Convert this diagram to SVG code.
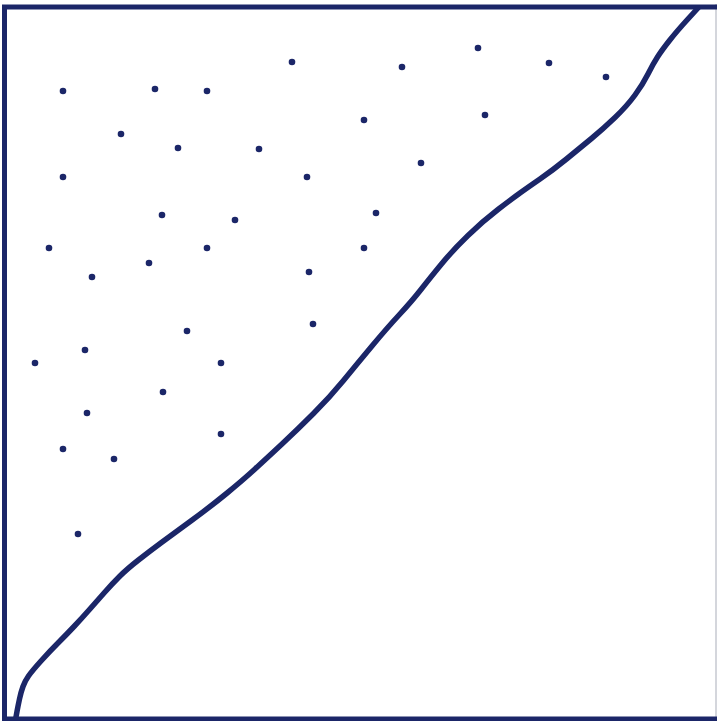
<svg xmlns="http://www.w3.org/2000/svg" width="717" height="721" viewBox="0 0 717 721">
<style>
.frame{fill:none;stroke:#1b2668;stroke-width:5;stroke-linecap:square}
.edge{fill:none;stroke:#d4d6dc;stroke-width:2}
.curve{fill:none;stroke:#1b2668;stroke-width:5.5;stroke-linejoin:round;stroke-linecap:round}
.dot{fill:#1b2668}
</style>
<rect width="717" height="721" fill="#ffffff"/>
<g id="frame">
<line class="edge" x1="716" y1="4" x2="716" y2="718"/>
<polyline class="frame" points="4.5,719 4.5,7 716,7"/>
<line class="frame" x1="4.5" y1="719" x2="716" y2="719"/>
</g>
<g id="curve">
<path class="curve" d="M16,717 L17,711.5 Q18,706 19.5,699 Q21,692 23,686.5 Q25,681 28.5,676 Q32,671 41,661 Q50,651 58.5,642.5 Q67,634 74.5,626 Q82,618 89.5,609.5 Q97,601 104.5,592.5 Q112,584 119.5,576.5 Q127,569 138.5,560 Q150,551 161.5,542.5 Q173,534 191.5,520.5 Q210,507 226.5,493.5 Q243,480 255,469 Q267,458 282,444 Q297,430 313.5,413.5 Q330,397 343.5,380.5 Q357,364 372,346 Q387,328 399.5,314.5 Q412,301 421,289.5 Q430,278 441.5,264 Q453,250 468,235.5 Q483,221 498,209.5 Q513,198 520,193 Q527,188 540,179 Q553,170 566.5,159 Q580,148 591.5,138.5 Q603,129 615,117.5 Q627,106 635,95 Q643,84 648,74 Q653,64 657.5,57 Q662,50 669.5,40.5 Q677,31 687.5,19.5 L698,8"/>
</g>
<g id="dots">
<circle class="dot" cx="292" cy="62" r="3.3"/>
<circle class="dot" cx="402" cy="67" r="3.3"/>
<circle class="dot" cx="478" cy="48" r="3.3"/>
<circle class="dot" cx="549" cy="63" r="3.3"/>
<circle class="dot" cx="606" cy="77" r="3.3"/>
<circle class="dot" cx="63" cy="91" r="3.3"/>
<circle class="dot" cx="155" cy="89" r="3.3"/>
<circle class="dot" cx="207" cy="91" r="3.3"/>
<circle class="dot" cx="121" cy="134" r="3.3"/>
<circle class="dot" cx="178" cy="148" r="3.3"/>
<circle class="dot" cx="259" cy="149" r="3.3"/>
<circle class="dot" cx="364" cy="120" r="3.3"/>
<circle class="dot" cx="485" cy="115" r="3.3"/>
<circle class="dot" cx="421" cy="163" r="3.3"/>
<circle class="dot" cx="63" cy="177" r="3.3"/>
<circle class="dot" cx="307" cy="177" r="3.3"/>
<circle class="dot" cx="162" cy="215" r="3.3"/>
<circle class="dot" cx="235" cy="220" r="3.3"/>
<circle class="dot" cx="376" cy="213" r="3.3"/>
<circle class="dot" cx="49" cy="248" r="3.3"/>
<circle class="dot" cx="207" cy="248" r="3.3"/>
<circle class="dot" cx="364" cy="248" r="3.3"/>
<circle class="dot" cx="149" cy="263" r="3.3"/>
<circle class="dot" cx="92" cy="277" r="3.3"/>
<circle class="dot" cx="309" cy="272" r="3.3"/>
<circle class="dot" cx="187" cy="331" r="3.3"/>
<circle class="dot" cx="313" cy="324" r="3.3"/>
<circle class="dot" cx="85" cy="350" r="3.3"/>
<circle class="dot" cx="35" cy="363" r="3.3"/>
<circle class="dot" cx="221" cy="363" r="3.3"/>
<circle class="dot" cx="163" cy="392" r="3.3"/>
<circle class="dot" cx="87" cy="413" r="3.3"/>
<circle class="dot" cx="221" cy="434" r="3.3"/>
<circle class="dot" cx="63" cy="449" r="3.3"/>
<circle class="dot" cx="114" cy="459" r="3.3"/>
<circle class="dot" cx="78" cy="534" r="3.3"/>
</g>
</svg>
